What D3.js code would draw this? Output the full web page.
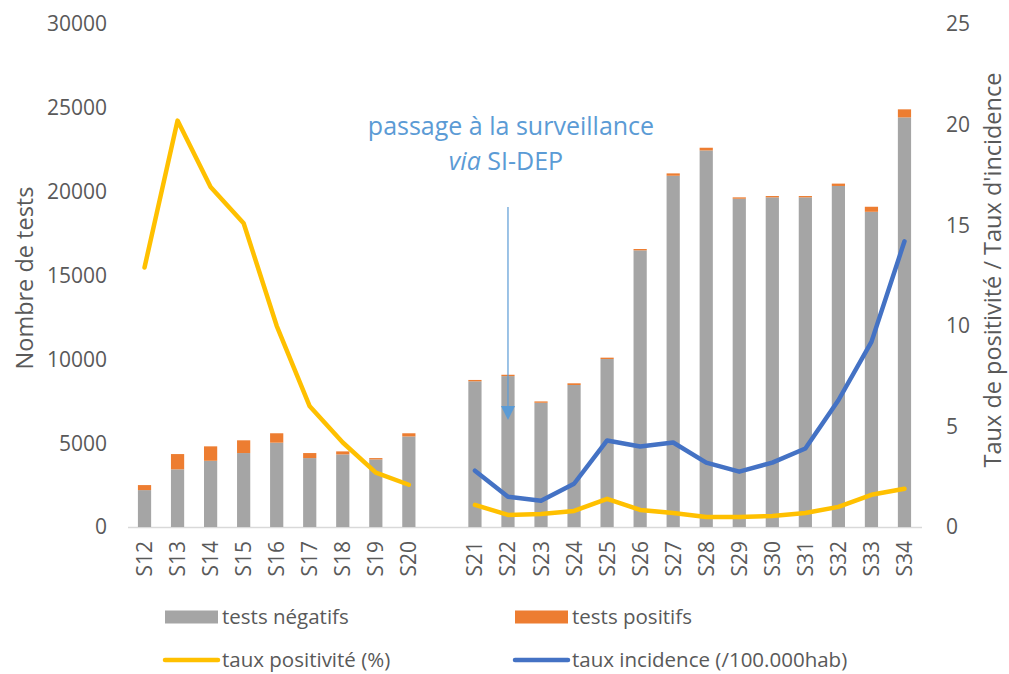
<!DOCTYPE html>
<html>
<head>
<meta charset="utf-8">
<script src="https://cdn.jsdelivr.net/npm/d3@7"></script>
<style>
	body { margin: 0; background: #fff; }
	svg text { font-family: "Open Sans", sans-serif; fill: #595959; }
</style>
</head>
<body>
<svg id="chart" width="1009" height="674"></svg>
<script>
// semaines (S12 -> S20 avant SI-DEP, S21 -> S34 via SI-DEP)
const weeks = ["S12","S13","S14","S15","S16","S17","S18","S19","S20",
	"S21","S22","S23","S24","S25","S26","S27","S28","S29","S30","S31","S32","S33","S34"];
const testsNegatifs = [2200,3440,3950,4410,5030,4110,4330,4030,5400,
	8690,9000,7410,8470,10020,16500,20950,22460,19580,19660,19660,20340,18800,24430];
const testsPositifs = [300,910,860,760,560,300,180,80,190,
	80,80,80,100,80,80,140,160,80,80,80,140,300,480];
const tauxPositivite = [12.9,20.2,16.9,15.1,10.0,6.0,4.2,2.7,2.1,
	1.1,0.6,0.65,0.8,1.4,0.85,0.7,0.5,0.5,0.55,0.7,1.0,1.6,1.9];
const tauxIncidence = [null,null,null,null,null,null,null,null,null,
	2.8,1.5,1.3,2.15,4.3,4.0,4.2,3.2,2.75,3.2,3.9,6.3,9.2,14.2];
const leftTicks = [0,5000,10000,15000,20000,25000,30000];
const rightTicks = [0,5,10,15,20,25];
const gapAfter = "S20";

const colors = { neg: "#A5A5A5", pos: "#ED7D31", taux: "#FFC000", inc: "#4472C4", note: "#5B9BD5" };

const svg = d3.select("#chart");

// domaine avec une colonne vide entre S20 et S21
let domain = [];
weeks.forEach(w => { domain.push(w); if(w === gapAfter) domain.push("_gap"); });

const x = d3.scaleBand().domain(domain).range([128, 921]).paddingInner(0.6).paddingOuter(0.3);
const yL = d3.scaleLinear().domain([0, 30000]).range([527, 24]);
const yR = d3.scaleLinear().domain([0, 25]).range([527, 24]);

const data = weeks.map((w, i) => ({
	week: w,
	neg: testsNegatifs[i],
	pos: testsPositifs[i],
	taux: tauxPositivite[i],
	inc: tauxIncidence[i],
	period: +w.slice(1) <= 20 ? 0 : 1
}));

// axe horizontal
svg.append("line")
	.attr("x1", 128).attr("x2", 922)
	.attr("y1", yL(0) + 0.5).attr("y2", yL(0) + 0.5)
	.attr("stroke", "#D9D9D9").attr("stroke-width", 1.5);

// barres empilées
const bars = svg.append("g");
bars.selectAll("rect.neg").data(data).join("rect")
	.attr("class", "neg")
	.attr("x", d => x(d.week)).attr("width", x.bandwidth())
	.attr("y", d => yL(d.neg)).attr("height", d => yL(0) - yL(d.neg))
	.attr("fill", colors.neg);
bars.selectAll("rect.pos").data(data).join("rect")
	.attr("class", "pos")
	.attr("x", d => x(d.week)).attr("width", x.bandwidth())
	.attr("y", d => yL(d.neg + d.pos)).attr("height", d => yL(d.neg) - yL(d.neg + d.pos))
	.attr("fill", colors.pos);

// courbes
const cx = d => x(d.week) + x.bandwidth() / 2;
const lineTaux = d3.line().x(cx).y(d => yR(d.taux));
[0, 1].forEach(p => {
	svg.append("path")
		.attr("d", lineTaux(data.filter(d => d.period === p)))
		.attr("fill", "none").attr("stroke", colors.taux)
		.attr("stroke-width", 4.5).attr("stroke-linejoin", "round").attr("stroke-linecap", "round");
});
const lineInc = d3.line().defined(d => d.inc != null).x(cx).y(d => yR(d.inc));
svg.append("path")
	.attr("d", lineInc(data))
	.attr("fill", "none").attr("stroke", colors.inc)
	.attr("stroke-width", 4.5).attr("stroke-linejoin", "round").attr("stroke-linecap", "round");

// graduations
svg.append("g").selectAll("text").data(leftTicks).join("text")
	.attr("x", 107).attr("y", d => yL(d)).attr("dy", "0.35em")
	.attr("text-anchor", "end").attr("font-size", 21)
	.text(d => d);
svg.append("g").selectAll("text").data(rightTicks).join("text")
	.attr("x", 946).attr("y", d => yR(d)).attr("dy", "0.35em")
	.attr("text-anchor", "start").attr("font-size", 21)
	.text(d => d);
svg.append("g").selectAll("text").data(weeks).join("text")
	.attr("transform", d => "translate(" + (cx({week: d}) + 7.5) + ",541) rotate(-90)")
	.attr("text-anchor", "end").attr("font-size", 21)
	.text(d => d);

// titres des axes
svg.append("text")
	.attr("transform", "translate(33,278) rotate(-90)")
	.attr("text-anchor", "middle").attr("font-size", 23.5)
	.text("Nombre de tests");
svg.append("text")
	.attr("transform", "translate(1001,270) rotate(-90)")
	.attr("text-anchor", "middle").attr("font-size", 23.5)
	.text("Taux de positivité / Taux d'incidence");

// annotation
const note = svg.append("g");
note.append("text")
	.attr("x", 511).attr("y", 135).attr("text-anchor", "middle")
	.attr("font-size", 25).style("fill", colors.note)
	.text("passage à la surveillance");
const l2 = note.append("text")
	.attr("x", 506).attr("y", 170).attr("text-anchor", "middle")
	.attr("font-size", 25).style("fill", colors.note);
l2.append("tspan").attr("font-style", "italic").text("via");
l2.append("tspan").text(" SI-DEP");
const ax = cx({week: "S22"});
note.append("line")
	.attr("x1", ax).attr("x2", ax).attr("y1", 207).attr("y2", 408)
	.attr("stroke", colors.note).attr("stroke-width", 1.2);
note.append("path")
	.attr("d", "M" + (ax - 7) + ",406L" + (ax + 7) + ",406L" + ax + ",420Z")
	.attr("fill", colors.note);

// légende
const legend = [
	{ label: "tests négatifs", type: "rect", color: colors.neg, x: 165, y: 617 },
	{ label: "tests positifs", type: "rect", color: colors.pos, x: 515, y: 617 },
	{ label: "taux positivité (%)", type: "line", color: colors.taux, x: 165, y: 660 },
	{ label: "taux incidence (/100.000hab)", type: "line", color: colors.inc, x: 515, y: 660 }
];
const lg = svg.append("g").selectAll("g").data(legend).join("g")
	.attr("transform", d => "translate(" + d.x + "," + d.y + ")");
lg.filter(d => d.type === "rect").append("rect")
	.attr("x", 0).attr("y", -6.5).attr("width", 53).attr("height", 13)
	.attr("fill", d => d.color);
lg.filter(d => d.type === "line").append("line")
	.attr("x1", 0).attr("x2", 53).attr("y1", 0).attr("y2", 0)
	.attr("stroke", d => d.color).attr("stroke-width", 4.5).attr("stroke-linecap", "round");
lg.append("text")
	.attr("x", 57).attr("y", 0).attr("dy", "0.33em").attr("font-size", 20.5)
	.text(d => d.label);
</script>
</body>
</html>
